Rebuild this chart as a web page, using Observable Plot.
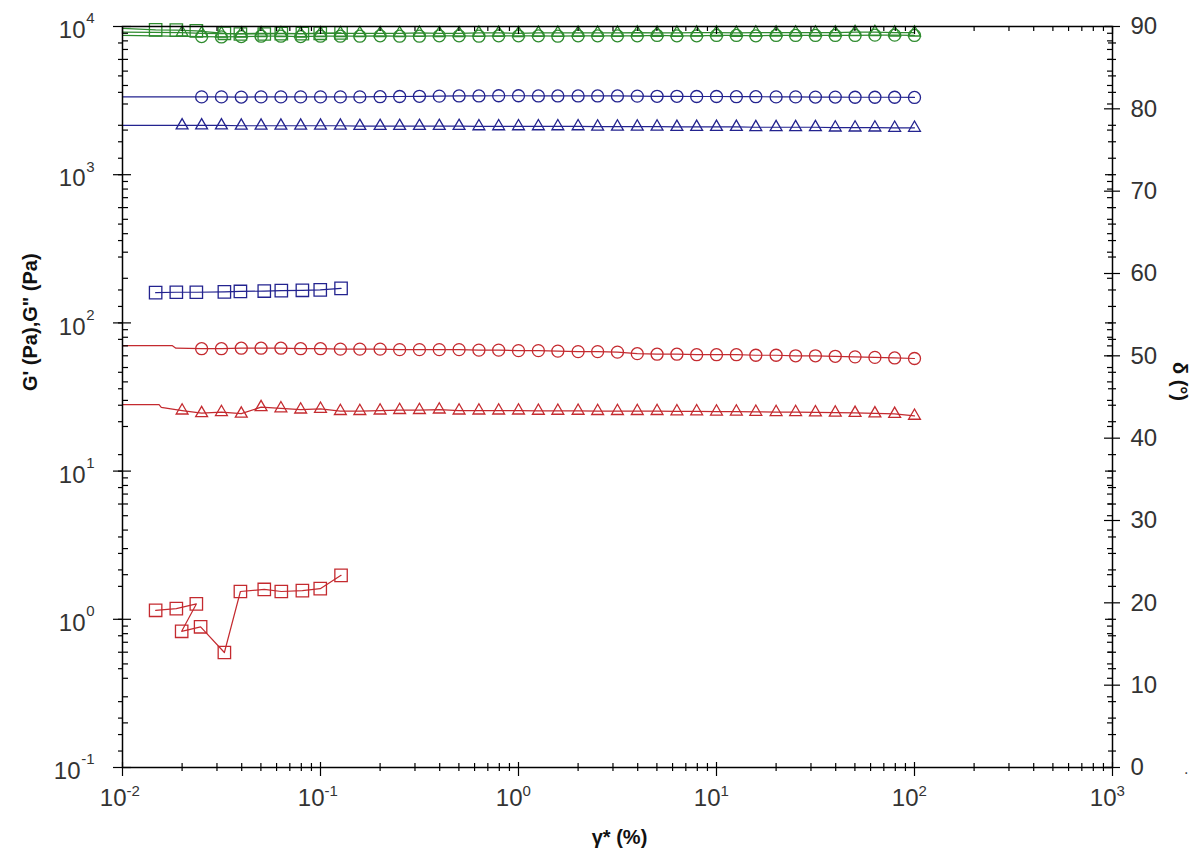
<!DOCTYPE html>
<html><head><meta charset="utf-8">
<script src="https://cdn.jsdelivr.net/npm/d3@7"></script>
<script src="https://cdn.jsdelivr.net/npm/@observablehq/plot@0.6"></script>
<style>html,body{margin:0;padding:0;background:#fff;overflow:hidden}svg{display:block}</style>
</head><body><div id="chart"></div>
<script>
// ---- data ----
const strainCircle = [0.0251,0.0316,0.0398,0.0501,0.0631,0.0794,0.1,0.126,0.158,0.2,0.251,0.316,0.398,0.501,0.631,0.794,1,1.26,1.58,2,2.51,3.16,3.98,5.01,6.31,7.94,10,12.6,15.8,20,25.1,31.6,39.8,50.1,63.1,79.4,100];
const strainTriangle = [0.02,0.0251,0.0316,0.0398,0.0501,0.0631,0.0794,0.1,0.126,0.158,0.2,0.251,0.316,0.398,0.501,0.631,0.794,1,1.26,1.58,2,2.51,3.16,3.98,5.01,6.31,7.94,10,12.6,15.8,20,25.1,31.6,39.8,50.1,63.1,79.4,100];
const strainSquare = [0.0147,0.0187,0.0236,0.0327,0.0394,0.052,0.0634,0.081,0.0997,0.127];
const strainRedSquare = [0.0147,0.0187,0.0236,0.0199,0.0248,0.0327,0.0394,0.052,0.0634,0.081,0.0997,0.127];

const greenCircle = [8550,8500,8550,8600,8600,8550,8600,8600,8600,8650,8600,8600,8650,8650,8600,8650,8650,8650,8600,8650,8650,8650,8650,8700,8650,8650,8700,8700,8650,8700,8700,8700,8700,8700,8750,8750,8700];
const greenTriangle = [9100,9000,8950,8950,9000,9000,8950,9000,9000,9000,9000,9000,9050,9000,9000,9050,9050,9000,9050,9050,9050,9050,9050,9100,9050,9050,9100,9100,9050,9100,9100,9100,9100,9100,9150,9150,9100,9100];
const greenSquare = [9500,9450,9350,9000,8900,8900,8950,8950,9000,9050];

const blueCircle = [3350,3350,3340,3350,3350,3350,3350,3350,3350,3360,3370,3380,3390,3400,3400,3410,3410,3400,3400,3400,3400,3400,3390,3380,3380,3370,3370,3360,3360,3350,3350,3340,3340,3330,3330,3330,3320];
const blueTriangle = [2150,2150,2150,2140,2140,2140,2140,2140,2140,2130,2130,2130,2130,2130,2130,2120,2120,2120,2120,2120,2120,2110,2110,2110,2110,2100,2100,2100,2100,2090,2090,2090,2090,2080,2080,2080,2070,2070];
const blueSquare = [160,161,161,162,163,164,165,166,167,171];

const redCircle = [67,67,67.5,67.5,67.5,67,67,66.5,66.5,66.5,66,66,66,66,65.5,65.5,65,65,64.5,64,64,63.5,62,61.5,61.5,61,61,61,60.5,60.5,60,60,59.5,59,58.5,58,57.5];
const redTriangle = [25.6,24.6,25.0,24.4,27.0,26.5,26.0,26.3,25.4,25.4,25.6,25.8,25.8,26.0,25.6,25.6,25.6,25.6,25.5,25.5,25.5,25.4,25.4,25.4,25.4,25.3,25.3,25.2,25.2,25.1,25.0,25.0,24.9,24.8,24.7,24.5,24.3,23.6];
const redSquare = [1.15,1.18,1.27,0.83,0.89,0.597,1.54,1.59,1.54,1.56,1.61,1.98];

// line segments drawn before the first marker (unmarked points)
const leadStrain1 = [0.01];
const leadStrainRedCircle = [0.01,0.0178,0.0186];
const leadStrainRedTriangle = [0.01,0.0153,0.0157];
const leadGreenCircle = [8700], leadGreenTriangle = [9150], leadGreenSquare = [9700];
const leadBlueCircle = [3350], leadBlueTriangle = [2150];
const leadRedCircle = [70.3,70.3,67.5];
const leadRedTriangle = [28.1,28.1,26.9];

// axis ticks & labels
const xTickValues = [0.01,0.1,1,10,100,1000];
const xTickExponents = ["-2","-1","0","1","2","3"];
const yTickValues = [0.1,1,10,100,1000,10000];
const yTickExponents = ["-1","0","1","2","3","4"];
const degTickValues = [0,10,20,30,40,50,60,70,80,90];

const GREEN = "#2e8b2e", BLUE = "#23238f", RED = "#c42a2f";

// ---- helpers ----
const pts = (xs, ys) => xs.map((x, i) => ({x, y: ys[i]}));
const minorsOf = (majors) => majors.slice(0, -1).flatMap(m => [2,3,4,5,6,7,8,9].map(k => k * m));
const xMinor = minorsOf(xTickValues);
const yMinor = minorsOf(yTickValues);
const degMinor = d3.range(0, 91, 2).filter(d => d % 10 !== 0);
const deg2y = d => Math.pow(10, -1 + d / 18); // secondary δ axis (0–90°) mapped onto primary log scale

const W = 1198, H = 855, ML = 122, MR = 86, MT = 26, MB = 88;
const innerW = W - ML - MR, innerH = H - MT - MB;

const series = [
  {color: GREEN, symbol: "circle", r: 6, lead: pts(leadStrain1, leadGreenCircle), data: pts(strainCircle, greenCircle)},
  {color: GREEN, symbol: "triangle", r: 4.4, lead: pts(leadStrain1, leadGreenTriangle), data: pts(strainTriangle, greenTriangle)},
  {color: GREEN, symbol: "square", r: 7, lead: pts(leadStrain1, leadGreenSquare), data: pts(strainSquare, greenSquare)},
  {color: BLUE, symbol: "circle", r: 6, lead: pts(leadStrain1, leadBlueCircle), data: pts(strainCircle, blueCircle)},
  {color: BLUE, symbol: "triangle", r: 4.4, lead: pts(leadStrain1, leadBlueTriangle), data: pts(strainTriangle, blueTriangle)},
  {color: BLUE, symbol: "square", r: 7, lead: [], data: pts(strainSquare, blueSquare)},
  {color: RED, symbol: "circle", r: 6, lead: pts(leadStrainRedCircle, leadRedCircle), data: pts(strainCircle, redCircle)},
  {color: RED, symbol: "triangle", r: 4.4, lead: pts(leadStrainRedTriangle, leadRedTriangle), data: pts(strainTriangle, redTriangle)},
  {color: RED, symbol: "square", r: 7, lead: [], data: pts(strainRedSquare, redSquare)}
];

const tickStyle = {stroke: "#000", strokeWidth: 1.2};
const labelStyle = {fill: "#333", fontSize: 24};
const expStyle = {fill: "#333", fontSize: 15};
const neg = (v) => yTickExponents[yTickValues.indexOf(v)].startsWith("-");

const marks = [
  // data
  ...series.flatMap(s => [
    Plot.line([...s.lead, ...s.data], {x: "x", y: "y", stroke: s.color, strokeWidth: 1.2}),
    Plot.dot(s.data, {x: "x", y: "y", symbol: s.symbol, r: s.r, stroke: s.color, fill: "none", strokeWidth: 1.3})
  ]),
  Plot.frame({stroke: "#000", strokeWidth: 1.5}),
  // bottom ticks
  Plot.ruleX(xTickValues, {x: d => d, insetTop: innerH - 5, insetBottom: -9, ...tickStyle}),
  Plot.ruleX(xMinor, {x: d => d, insetTop: innerH - 4, insetBottom: -4, ...tickStyle}),
  // top ticks
  Plot.ruleX(xTickValues, {x: d => d, insetTop: 0, insetBottom: innerH - 8, ...tickStyle}),
  Plot.ruleX(xMinor, {x: d => d, insetTop: 0, insetBottom: innerH - 5, ...tickStyle}),
  // left ticks (log + δ)
  Plot.ruleY(yTickValues, {y: d => d, insetLeft: -9, insetRight: innerW - 9, ...tickStyle}),
  Plot.ruleY(yMinor, {y: d => d, insetLeft: 0, insetRight: innerW - 6, ...tickStyle}),
  Plot.ruleY(degMinor, {y: deg2y, insetLeft: -4, insetRight: innerW, ...tickStyle}),
  // right ticks (δ + log)
  Plot.ruleY(degTickValues, {y: deg2y, insetLeft: innerW - 8, insetRight: -8, ...tickStyle}),
  Plot.ruleY(degMinor, {y: deg2y, insetLeft: innerW - 4, insetRight: -4, ...tickStyle}),
  Plot.ruleY(yTickValues, {y: d => d, insetLeft: innerW - 7, insetRight: 0, ...tickStyle}),
  Plot.ruleY(yMinor, {y: d => d, insetLeft: innerW - 5, insetRight: 0, ...tickStyle}),
  // x tick labels
  Plot.text(xTickValues, {x: d => d, frameAnchor: "bottom", text: () => "10", textAnchor: "end", dx: 4, dy: 38, ...labelStyle}),
  Plot.text(xTickValues, {x: d => d, frameAnchor: "bottom", text: d => xTickExponents[xTickValues.indexOf(d)], textAnchor: "start", dx: 4, dy: 28, ...expStyle}),
  // left tick labels
  Plot.text(yTickValues.filter(neg), {y: d => d, frameAnchor: "left", text: () => "10", textAnchor: "end", dx: -42, dy: 4, ...labelStyle}),
  Plot.text(yTickValues.filter(v => !neg(v)), {y: d => d, frameAnchor: "left", text: () => "10", textAnchor: "end", dx: -37, dy: 4, ...labelStyle}),
  Plot.text(yTickValues, {y: d => d, frameAnchor: "left", text: d => yTickExponents[yTickValues.indexOf(d)], textAnchor: "end", dx: -28, dy: -8, ...expStyle}),
  // right tick labels
  Plot.text(degTickValues, {y: deg2y, frameAnchor: "right", text: d => String(d), textAnchor: "start", dx: 18, ...labelStyle}),
  // axis titles
  Plot.text(["G' (Pa),G\" (Pa)"], {frameAnchor: "left", dx: -92, dy: -6, rotate: -90, fontWeight: "bold", fontSize: 20, fill: "#111"}),
  Plot.text(["δ (°)"], {frameAnchor: "right", dx: 67, dy: 4, rotate: 90, fontWeight: "bold", fontSize: 20, fill: "#111"}),
  Plot.text(["γ* (%)"], {frameAnchor: "bottom", dx: 2, dy: 76, fontWeight: "bold", fontSize: 20, fill: "#111"}),
  Plot.text(["."], {frameAnchor: "bottom-right", dx: 76, dy: 6, fontSize: 16, fill: "#444"})
];

const chart = Plot.plot({
  width: W, height: H,
  marginLeft: ML, marginRight: MR, marginTop: MT, marginBottom: MB,
  x: {type: "log", domain: [0.01, 1000], axis: null},
  y: {type: "log", domain: [0.1, 10000], axis: null},
  style: {fontFamily: "'Liberation Sans', Arial, sans-serif", background: "#fff", overflow: "visible"},
  marks
});
document.getElementById("chart").append(chart);
</script>
</body></html>
